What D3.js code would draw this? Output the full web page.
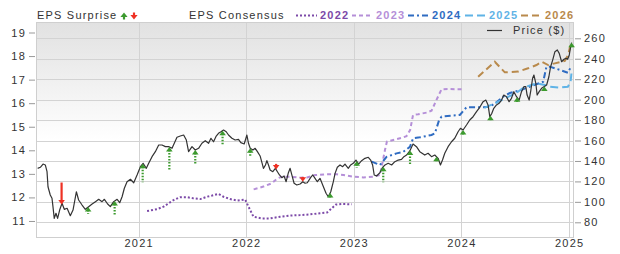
<!DOCTYPE html>
<html>
<head>
<meta charset="utf-8">
<script src="https://cdn.jsdelivr.net/npm/d3@7"></script>
<style>
  body { margin: 0; background: #fff; }
  text { font-family: "Liberation Sans", Arial, sans-serif; }
</style>
</head>
<body>
<div id="chart"></div>
<script>
// price ($), decimal year -> value
const price = [[2020.063,132.8],[2020.088,133.8],[2020.113,137.0],[2020.134,136.1],[2020.150,129.5],[2020.159,114.8],[2020.180,106.7],[2020.196,103.5],[2020.205,95.3],[2020.217,83.9],[2020.233,88.8],[2020.248,83.9],[2020.267,92.0],[2020.289,98.6],[2020.310,92.7],[2020.336,93.7],[2020.366,86.5],[2020.391,92.0],[2020.422,109.9],[2020.443,101.8],[2020.475,96.9],[2020.505,92.7],[2020.536,95.3],[2020.568,97.9],[2020.599,100.2],[2020.629,102.5],[2020.660,100.2],[2020.682,102.5],[2020.712,97.9],[2020.737,95.3],[2020.768,100.2],[2020.800,102.5],[2020.824,99.2],[2020.846,105.0],[2020.867,113.3],[2020.892,119.7],[2020.923,122.1],[2020.954,118.7],[2020.985,126.3],
  [2021.016,134.4],[2021.041,137.7],[2021.071,132.8],[2021.093,137.7],[2021.124,144.2],[2021.155,149.1],[2021.186,155.6],[2021.217,155.6],[2021.248,154.0],[2021.278,154.0],[2021.310,152.4],[2021.331,157.3],[2021.356,163.2],[2021.387,164.4],[2021.418,165.4],[2021.443,160.5],[2021.464,149.1],[2021.496,154.0],[2021.526,150.7],[2021.557,152.4],[2021.588,157.3],[2021.619,159.8],[2021.650,157.3],[2021.672,162.2],[2021.696,158.8],[2021.721,164.4],[2021.742,167.1],[2021.765,168.6],[2021.789,170.3],[2021.814,168.6],[2021.835,165.4],[2021.867,162.2],[2021.897,160.5],[2021.928,161.2],[2021.950,157.9],[2021.981,156.6],
  [2022.006,165.4],[2022.021,157.3],[2022.037,152.4],[2022.062,150.7],[2022.083,152.4],[2022.104,149.1],[2022.129,144.9],[2022.148,137.7],[2022.160,132.8],[2022.179,136.1],[2022.192,140.3],[2022.207,136.1],[2022.222,131.2],[2022.247,129.5],[2022.271,132.8],[2022.290,129.5],[2022.309,126.3],[2022.331,123.6],[2022.352,125.3],[2022.371,119.7],[2022.392,128.5],[2022.408,132.8],[2022.424,126.3],[2022.445,118.2],[2022.470,116.5],[2022.501,117.5],[2022.526,119.7],[2022.547,118.2],[2022.568,118.7],[2022.600,124.0],[2022.619,126.3],[2022.640,123.0],[2022.661,119.7],[2022.686,123.0],[2022.711,116.5],[2022.742,108.4],[2022.763,105.0],[2022.786,109.9],[2022.810,119.7],[2022.826,127.9],[2022.847,133.8],[2022.872,136.1],[2022.897,134.4],[2022.918,137.0],[2022.949,132.8],[2022.971,136.1],[2022.995,137.7],
  [2023.020,140.9],[2023.045,137.0],[2023.073,140.3],[2023.104,142.6],[2023.135,143.6],[2023.157,140.9],[2023.175,136.1],[2023.190,126.3],[2023.212,125.3],[2023.243,128.5],[2023.268,133.8],[2023.290,136.1],[2023.320,137.7],[2023.352,136.1],[2023.382,139.3],[2023.413,140.9],[2023.444,141.6],[2023.466,144.2],[2023.491,145.8],[2023.521,149.8],[2023.551,156.6],[2023.583,154.0],[2023.614,149.1],[2023.660,145.8],[2023.691,147.5],[2023.723,144.2],[2023.753,145.8],[2023.784,142.6],[2023.806,136.1],[2023.825,140.9],[2023.846,147.5],[2023.877,154.0],[2023.909,158.8],[2023.939,162.2],[2023.970,168.6],[2023.992,172.0],
  [2024.016,170.3],[2024.048,175.2],[2024.078,180.1],[2024.109,183.3],[2024.141,188.2],[2024.171,192.5],[2024.202,198.0],[2024.227,199.6],[2024.248,194.8],[2024.264,183.3],[2024.283,186.6],[2024.301,191.5],[2024.326,194.8],[2024.350,196.4],[2024.373,199.6],[2024.394,204.5],[2024.419,202.9],[2024.443,198.0],[2024.465,201.3],[2024.487,207.8],[2024.512,202.9],[2024.536,199.6],[2024.558,207.8],[2024.580,212.7],[2024.598,212.7],[2024.610,204.5],[2024.629,199.6],[2024.645,209.4],[2024.661,220.9],[2024.673,224.1],[2024.691,216.0],[2024.703,204.5],[2024.722,207.8],[2024.744,211.1],[2024.766,212.7],[2024.791,214.3],[2024.812,222.4],[2024.828,232.2],[2024.847,238.7],[2024.868,246.9],[2024.890,248.6],[2024.908,245.3],[2024.930,237.1],[2024.952,239.5],[2024.970,240.4],[2024.986,239.5],[2025.001,243.7],[2025.014,251.8],[2025.023,255.7]];

// EPS consensus per fiscal year
const eps2022 = [[2021.078,11.42],[2021.171,11.50],[2021.232,11.61],[2021.278,11.75],[2021.325,11.89],[2021.387,12.01],[2021.449,12.01],[2021.510,11.96],[2021.573,11.93],[2021.635,12.03],[2021.684,12.08],[2021.742,12.15],[2021.789,12.03],[2021.851,11.93],[2021.913,11.87],[2021.990,11.91],[2022.021,11.61],[2022.067,11.18],[2022.145,11.11],[2022.222,11.11],[2022.315,11.18],[2022.408,11.23],[2022.501,11.25],[2022.594,11.28],[2022.686,11.33],[2022.751,11.36],[2022.788,11.51],[2022.835,11.70],[2022.891,11.72],[2022.981,11.71]];
const eps2023 = [[2022.069,12.34],[2022.160,12.46],[2022.238,12.60],[2022.290,12.81],[2022.334,12.88],[2022.408,12.88],[2022.501,12.84],[2022.566,12.85],[2022.640,12.95],[2022.733,12.98],[2022.844,12.98],[2022.903,12.95],[2022.995,12.88],[2023.088,12.85],[2023.181,12.88],[2023.243,12.95],[2023.259,13.30],[2023.290,14.01],[2023.308,14.37],[2023.367,14.44],[2023.459,14.55],[2023.490,14.60],[2023.524,14.86],[2023.551,15.50],[2023.599,15.53],[2023.677,15.60],[2023.723,15.68],[2023.769,16.14],[2023.816,16.59],[2023.893,16.60],[2024.002,16.59]];
const eps2024 = [[2023.166,13.52],[2023.243,13.38],[2023.305,13.72],[2023.398,13.87],[2023.459,13.93],[2023.522,14.15],[2023.552,14.51],[2023.614,14.55],[2023.723,14.65],[2023.754,14.72],[2023.794,15.29],[2023.816,15.43],[2023.986,15.50],[2024.048,15.83],[2024.202,15.83],[2024.264,15.85],[2024.329,16.05],[2024.388,16.28],[2024.450,16.43],[2024.543,16.54],[2024.663,16.75],[2024.759,16.91],[2024.789,17.54],[2024.821,17.55],[2024.914,17.41],[2024.988,17.29],[2025.021,17.58]];
const eps2025 = [[2024.214,15.80],[2024.329,16.03],[2024.422,16.24],[2024.515,16.45],[2024.580,16.67],[2024.663,16.79],[2024.700,16.84],[2024.774,16.77],[2024.821,16.70],[2024.914,16.66],[2024.988,16.70],[2025.013,16.91],[2025.021,17.26]];
const eps2026 = [[2024.156,17.12],[2024.310,17.76],[2024.403,17.31],[2024.527,17.34],[2024.619,17.48],[2024.697,17.62],[2024.744,17.76],[2024.805,17.62],[2024.867,17.69],[2024.960,17.80],[2024.991,18.05],[2025.016,18.54]];

// EPS surprise (%) at report dates
const surprises = [[2020.285,-17.5],[2020.531,2.2],[2020.777,9.8],[2021.037,13.9],[2021.285,18.2],[2021.526,10.5],[2021.780,9.5],[2022.037,2.9],[2022.278,-1.2],[2022.526,-0.3],[2022.780,0.4],[2023.027,2.2],[2023.274,11.1],[2023.523,8.9],[2023.769,0.6],[2024.016,0.5],[2024.270,0.4],[2024.517,0.4],[2024.770,0.4],[2025.023,0.4]];

const consensusNames = ["2022","2023","2024","2025","2026"];
const epsTicks = [11,12,13,14,15,16,17,18,19];
const priceTicks = [80,100,120,140,160,180,200,220,240,260];
const yearTicks = [2021,2022,2023,2024,2025];

function toDate(t) {
  const y = Math.floor(t);
  const a = Date.UTC(y,0,1), b = Date.UTC(y+1,0,1);
  return new Date(a + (t-y)*(b-a));
}

const svgWidth = 620, svgHeight = 254;
const plotLeft = 37, plotRight = 574, plotTop = 22, plotBottom = 237;

const svg = d3.select("#chart").append("svg")
  .attr("width", svgWidth).attr("height", svgHeight);

const x = d3.scaleUtc()
  .domain([toDate(2020.057), toDate(2025.045)])
  .range([plotLeft, plotRight]);
const yP = d3.scaleLinear().domain([65.62, 275.95]).range([plotBottom, plotTop]);
const yE = d3.scaleLinear().domain([10.32, 19.446]).range([plotBottom, plotTop]);

// background gradient
const defs = svg.append("defs");
const grad = defs.append("linearGradient").attr("id","bg")
  .attr("x1",0).attr("y1",0).attr("x2",0).attr("y2",1);
grad.append("stop").attr("offset","0%").attr("stop-color","#e1e1e1");
grad.append("stop").attr("offset","55%").attr("stop-color","#ffffff");
grad.append("stop").attr("offset","100%").attr("stop-color","#ffffff");

svg.append("rect")
  .attr("x", plotLeft).attr("y", plotTop)
  .attr("width", plotRight-plotLeft).attr("height", plotBottom-plotTop)
  .attr("fill", "url(#bg)");

//Gridlines
svg.append("g").selectAll("line")
  .data(priceTicks)
  .join("line")
  .attr("x1", plotLeft).attr("x2", plotRight)
  .attr("y1", d => Math.round(yP(d))+0.5).attr("y2", d => Math.round(yP(d))+0.5)
  .attr("stroke", "#d3d3d3");

svg.append("g").selectAll("line")
  .data(yearTicks)
  .join("line")
  .attr("x1", d => Math.round(x(toDate(d)))+0.5).attr("x2", d => Math.round(x(toDate(d)))+0.5)
  .attr("y1", plotTop).attr("y2", plotBottom)
  .attr("stroke", "#d3d3d3");

svg.append("rect")
  .attr("x", plotLeft-0.5).attr("y", plotTop+0.5)
  .attr("width", plotRight-plotLeft).attr("height", plotBottom-plotTop)
  .attr("fill", "none").attr("stroke", "#cfcfcf");

// axes
const fontSize = "11px", spacing = "1.2px";

svg.append("g")
  .attr("transform", "translate(35,0)")
  .call(d3.axisLeft(yE).tickValues(epsTicks).tickSize(6).tickPadding(3))
  .call(g => g.select(".domain").remove());

svg.append("g")
  .attr("transform", `translate(${plotRight+1},0)`)
  .call(d3.axisRight(yP).tickValues(priceTicks).tickSize(6).tickPadding(3))
  .call(g => g.select(".domain").remove());

svg.append("g")
  .attr("transform", `translate(0,${plotBottom})`)
  .call(d3.axisBottom(x).tickValues(yearTicks.map(toDate)).tickFormat(d3.utcFormat("%Y")).tickSize(0).tickPadding(2))
  .call(g => g.select(".domain").remove());

svg.selectAll(".tick line").attr("stroke", "#999");
svg.selectAll(".tick text")
  .attr("fill", "#333")
  .style("font-size", fontSize)
  .style("letter-spacing", spacing)
  .style("font-family", "'Liberation Sans', Arial, sans-serif");

// consensus lines
const styles = {
  "2022": { color: "#7c4aa8", dash: "2,2" },
  "2023": { color: "#b58fd8", dash: "4,3" },
  "2024": { color: "#2f6cc2", dash: "6,3,2,3" },
  "2025": { color: "#5fb3e6", dash: "8,4" },
  "2026": { color: "#b98a4c", dash: "7,4" }
};
const epsSeries = { "2022": eps2022, "2023": eps2023, "2024": eps2024, "2025": eps2025, "2026": eps2026 };

const epsLine = d3.line()
  .x(d => x(toDate(d[0])))
  .y(d => yE(d[1]));

consensusNames.forEach(function(name) {
  svg.append("path")
    .datum(epsSeries[name])
    .attr("fill", "none")
    .attr("stroke", styles[name].color)
    .attr("stroke-width", 2)
    .attr("stroke-dasharray", styles[name].dash)
    .attr("d", epsLine);
});

// price line
svg.append("path")
  .datum(price)
  .attr("fill", "none")
  .attr("stroke", "#333")
  .attr("stroke-width", 1.2)
  .attr("stroke-linejoin", "round")
  .attr("d", d3.line()
    .x(d => x(toDate(d[0])))
    .y(d => yP(d[1]))
  );

// surprise arrows, placed on the price line
const bis = d3.bisector(d => d[0]).left;
function priceAt(t) {
  let i = bis(price, t);
  if (i <= 0) return price[0][1];
  if (i >= price.length) return price[price.length-1][1];
  const a = price[i-1], b = price[i];
  return a[1] + (b[1]-a[1]) * (t-a[0]) / (b[0]-a[0]);
}
const len = d3.scaleLinear().domain([0, 20]).range([4.5, 24.5]);
const green = "#3c9a2e", red = "#ee3124";

function arrow(g, cx, tipY, up, length, color, dotted, hw) {
  const s = up ? 1 : -1;
  hw = hw || 3.3;
  g.append("line")
    .attr("x1", cx).attr("x2", cx)
    .attr("y1", tipY + s*3).attr("y2", tipY + s*length)
    .attr("stroke", color).attr("stroke-width", 2.2)
    .attr("stroke-dasharray", dotted ? "1.5,1.5" : null);
  g.append("path")
    .attr("d", `M${cx},${tipY} L${cx-hw},${tipY+s*4.5} L${cx+hw},${tipY+s*4.5} Z`)
    .attr("fill", color);
}

const arrows = svg.append("g");
surprises.forEach(function(d) {
  const up = d[1] >= 0;
  arrow(arrows, x(toDate(d[0])), yP(priceAt(d[0])), up, len(Math.abs(d[1])), up ? green : red, up);
});

// legend
const legend = svg.append("g")
  .style("font-size", fontSize)
  .style("letter-spacing", spacing);

legend.append("text").attr("x", 37).attr("y", 19.3).attr("fill", "#333").text("EPS Surprise");
arrow(legend, 124, 12.5, true, 7, green, false, 3.6);
arrow(legend, 134, 19.5, false, 7, red, false, 3.6);

legend.append("text").attr("x", 189).attr("y", 19.3).attr("fill", "#333").text("EPS Consensus");

const itemX = [296, 352, 408, 465, 521];
consensusNames.forEach(function(name, i) {
  legend.append("line")
    .attr("x1", itemX[i]).attr("x2", itemX[i] + 21)
    .attr("y1", 15.5).attr("y2", 15.5)
    .attr("stroke", styles[name].color)
    .attr("stroke-width", 2)
    .attr("stroke-dasharray", styles[name].dash);
  legend.append("text")
    .attr("x", itemX[i] + 24).attr("y", 19.3)
    .attr("fill", styles[name].color)
    .attr("font-weight", "bold")
    .text(name);
});

legend.append("line")
  .attr("x1", 487).attr("x2", 502).attr("y1", 30.5).attr("y2", 30.5)
  .attr("stroke", "#333").attr("stroke-width", 1.2);
legend.append("text").attr("x", 513).attr("y", 33.5).attr("fill", "#333").text("Price ($)");
</script>
</body>
</html>
